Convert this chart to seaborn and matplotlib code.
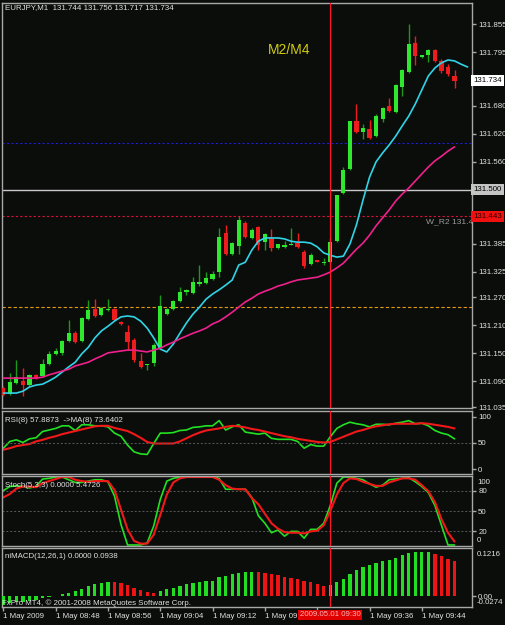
import numpy as np
import pandas as pd
import matplotlib
matplotlib.use("Agg")
import matplotlib.pyplot as plt
import matplotlib.transforms as mtransforms
from matplotlib import font_manager
import seaborn as sns

# ==========================================
# Data (EURJPY M1, 1 May 2009 08:40 - 09:49)
# ==========================================
opens = [131.076, 131.063, 131.086, 131.091, 131.082, 131.104, 131.101, 131.127, 131.149, 131.151,
         131.176, 131.193, 131.176, 131.223, 131.245, 131.232, 131.243, 131.245, 131.217, 131.196,
         131.178, 131.134, 131.125, 131.129, 131.161, 131.234, 131.245, 131.262, 131.281, 131.279,
         131.298, 131.301, 131.309, 131.324, 131.408, 131.363, 131.380, 131.429, 131.397, 131.421,
         131.388, 131.397, 131.375, 131.378, 131.383, 131.386, 131.367, 131.341, 131.350, 131.343,
         131.345, 131.390, 131.493, 131.545, 131.647, 131.624, 131.630, 131.615, 131.652, 131.680,
         131.667, 131.720, 131.752, 131.814, 131.784, 131.789, 131.799, 131.776, 131.763, 131.744]
highs = [131.080, 131.108, 131.136, 131.119, 131.106, 131.106, 131.138, 131.155, 131.161, 131.178,
         131.221, 131.198, 131.228, 131.264, 131.266, 131.249, 131.266, 131.247, 131.219, 131.211,
         131.183, 131.151, 131.127, 131.172, 131.275, 131.247, 131.264, 131.292, 131.288, 131.313,
         131.339, 131.324, 131.326, 131.418, 131.425, 131.388, 131.444, 131.433, 131.418, 131.423,
         131.408, 131.416, 131.384, 131.390, 131.418, 131.408, 131.371, 131.365, 131.350, 131.354,
         131.397, 131.489, 131.549, 131.647, 131.684, 131.641, 131.650, 131.662, 131.677, 131.697,
         131.727, 131.759, 131.855, 131.829, 131.789, 131.801, 131.801, 131.780, 131.769, 131.756]
lows = [131.059, 131.061, 131.084, 131.059, 131.080, 131.095, 131.099, 131.125, 131.146, 131.146,
        131.174, 131.172, 131.174, 131.221, 131.228, 131.230, 131.241, 131.219, 131.211, 131.157,
        131.131, 131.119, 131.114, 131.123, 131.159, 131.232, 131.243, 131.260, 131.275, 131.277,
        131.294, 131.298, 131.307, 131.313, 131.360, 131.360, 131.363, 131.397, 131.395, 131.371,
        131.371, 131.369, 131.373, 131.375, 131.382, 131.375, 131.333, 131.339, 131.345, 131.339,
        131.343, 131.388, 131.491, 131.543, 131.622, 131.609, 131.609, 131.613, 131.645, 131.667,
        131.664, 131.701, 131.750, 131.767, 131.782, 131.774, 131.774, 131.750, 131.744, 131.717]
closes = [131.061, 131.089, 131.099, 131.082, 131.104, 131.097, 131.127, 131.149, 131.155, 131.176,
          131.193, 131.174, 131.226, 131.243, 131.230, 131.247, 131.245, 131.221, 131.213, 131.174,
          131.136, 131.121, 131.127, 131.168, 131.251, 131.245, 131.262, 131.281, 131.286, 131.303,
          131.303, 131.311, 131.320, 131.399, 131.363, 131.386, 131.435, 131.399, 131.414, 131.382,
          131.405, 131.375, 131.384, 131.382, 131.384, 131.378, 131.337, 131.360, 131.345, 131.345,
          131.388, 131.489, 131.543, 131.647, 131.624, 131.632, 131.611, 131.658, 131.675, 131.669,
          131.724, 131.757, 131.812, 131.787, 131.788, 131.799, 131.776, 131.754, 131.748, 131.734]

# cyan MA is drawn shifted two bars ahead of the candles
ma_fast = [131.065, 131.065, 131.065, 131.069, 131.078, 131.082, 131.084, 131.091, 131.099, 131.110,
           131.121, 131.131, 131.149, 131.163, 131.183, 131.198, 131.208, 131.219, 131.228, 131.230,
           131.228, 131.219, 131.204, 131.183, 131.159, 131.153, 131.170, 131.193, 131.215, 131.234,
           131.249, 131.266, 131.277, 131.286, 131.296, 131.307, 131.339, 131.345, 131.371, 131.390,
           131.397, 131.397, 131.397, 131.395, 131.390, 131.388, 131.388, 131.386, 131.378, 131.365,
           131.360, 131.356, 131.358, 131.384, 131.425, 131.478, 131.527, 131.560, 131.579, 131.596,
           131.615, 131.637, 131.658, 131.684, 131.714, 131.744, 131.761, 131.772, 131.778, 131.776,
           131.769, 131.763]
ma_slow = [131.097, 131.097, 131.097, 131.097, 131.097, 131.097, 131.099, 131.104, 131.108, 131.112,
           131.116, 131.123, 131.127, 131.131, 131.138, 131.144, 131.151, 131.153, 131.155, 131.157,
           131.157, 131.155, 131.153, 131.157, 131.161, 131.168, 131.174, 131.181, 131.187, 131.193,
           131.198, 131.204, 131.213, 131.219, 131.228, 131.238, 131.249, 131.260, 131.268, 131.277,
           131.283, 131.288, 131.294, 131.298, 131.303, 131.307, 131.309, 131.311, 131.313, 131.318,
           131.324, 131.333, 131.343, 131.358, 131.373, 131.386, 131.403, 131.423, 131.440, 131.457,
           131.476, 131.491, 131.504, 131.519, 131.534, 131.549, 131.562, 131.572, 131.583, 131.592]

rsi = [40, 53, 56, 51, 58, 60, 72, 75, 78, 83, 83, 74, 85, 85, 83, 83, 81, 69, 63, 46,
       33, 29, 28, 49, 69, 69, 70, 74, 75, 80, 81, 83, 83, 93, 75, 81, 85, 71, 69, 67,
       69, 59, 57, 57, 57, 53, 40, 47, 44, 44, 62, 78, 85, 90, 87, 85, 81, 86, 86, 85,
       88, 90, 93, 87, 88, 83, 74, 69, 66, 58]
rsi_ma = [37, 40, 44, 46, 48, 53, 56, 60, 63, 67, 70, 73, 76, 79, 82, 83, 83, 79, 76, 73,
          67, 60, 52, 49, 49, 49, 49, 53, 59, 65, 70, 74, 76, 78, 81, 83, 82, 80, 77, 75,
          72, 69, 66, 63, 61, 58, 56, 54, 52, 51, 52, 57, 62, 67, 72, 75, 79, 82, 84, 86,
          87, 87, 87, 87, 88, 87, 85, 83, 81, 78]

stoch_main = [80, 86, 87, 86, 84, 86, 97, 98, 100, 100, 96, 92, 92, 94, 96, 96, 93, 72, 30, 0,
              0, 0, 3, 28, 67, 94, 98, 100, 100, 100, 100, 100, 100, 98, 82, 82, 82, 82, 70, 43,
              32, 18, 22, 13, 20, 20, 10, 23, 23, 32, 58, 91, 100, 100, 98, 96, 90, 85, 88, 96,
              97, 98, 99, 93, 86, 77, 58, 29, 0, 0]
stoch_signal = [70, 75, 83, 86, 86, 85, 91, 94, 97, 100, 100, 96, 94, 93, 94, 94, 94, 81, 52, 23,
                6, 2, 2, 15, 44, 74, 92, 98, 100, 100, 100, 100, 100, 96, 88, 83, 82, 82, 69, 60,
                46, 32, 24, 19, 18, 18, 17, 20, 21, 29, 50, 74, 91, 98, 97, 93, 90, 87, 87, 92,
                95, 98, 98, 96, 88, 79, 63, 38, 18, 5]

macd_hist = [-0.022, -0.018, -0.016, -0.0137, -0.0116, -0.0084, -0.0053, -0.0021, 0.0021, 0.0063,
             0.0106, 0.0158, 0.0211, 0.0275, 0.0327, 0.037, 0.039, 0.038, 0.0359, 0.0306,
             0.0243, 0.0169, 0.0127, 0.0095, 0.0148, 0.019, 0.0232, 0.0285, 0.0327, 0.037,
             0.039, 0.0412, 0.0433, 0.0528, 0.056, 0.0612, 0.0644, 0.0655, 0.066, 0.0655,
             0.0644, 0.0612, 0.058, 0.0538, 0.0507, 0.0465, 0.0422, 0.039, 0.0348, 0.0285,
             0.0306, 0.038, 0.0486, 0.0612, 0.0718, 0.0803, 0.0866, 0.0919, 0.0971, 0.0982,
             0.1035, 0.1119, 0.1193, 0.1214, 0.1215, 0.1216, 0.116, 0.110, 0.103, 0.096]

price_ticks = [131.855, 131.795, 131.680, 131.620, 131.560, 131.385, 131.325,
               131.270, 131.210, 131.150, 131.090, 131.035]
time_ticks = [0, 8, 16, 24, 32, 40, 48, 56, 64]
# the 09:20 label is cut off and 09:28 hidden by the cursor time box in the screenshot
time_labels = ["1 May 2009", "1 May 08:48", "1 May 08:56", "1 May 09:04", "1 May 09:12",
               "1 May 09:", "", "1 May 09:36", "1 May 09:44"]

level_w_r2 = 131.443
level_round = 131.500
level_blue = 131.600
level_orange = 131.249
current_price = 131.734
cursor_bar = 50

# ==========================================
# Style
# ==========================================
BG = "#0b0d0b"
FRAME = "#a8a8a8"
TXT = "#e0e0e0"
BULL = "#2ee82e"
BULL_WICK = "#1a9a1a"
BEAR = "#ee1c1c"
CYAN = "#30d4e6"
PINK = "#f0208c"

sns.set_theme(style="dark", rc={"axes.facecolor": BG, "figure.facecolor": BG,
                                "axes.edgecolor": FRAME, "axes.grid": False})
have = {f.name for f in font_manager.fontManager.ttflist}
UI_FONT = "Liberation Sans Narrow" if "Liberation Sans Narrow" in have else "Liberation Sans"
FS = 6.6 if UI_FONT == "Liberation Sans Narrow" else 5.7
plt.rcParams["font.family"] = [UI_FONT, "DejaVu Sans"]

W, H = 506, 625
fig = plt.figure(figsize=(W / 100, H / 100), dpi=100, facecolor=BG)


def panel(top, bottom):
    a = fig.add_axes([2 / W, (H - bottom) / H, 470 / W, (bottom - top) / H])
    a.set_facecolor(BG)
    for s in a.spines.values():
        s.set_color(FRAME)
        s.set_linewidth(1)
    a.set_xlim(-0.2, 71.67)
    a.yaxis.tick_right()
    a.tick_params(axis="y", colors=FRAME, labelcolor=TXT, length=3, width=1,
                  pad=1.5, labelsize=FS, direction="out", right=True, left=False)
    a.tick_params(axis="x", bottom=False, labelbottom=False)
    a.set_xlabel("")
    a.set_ylabel("")
    return a


ax = panel(3, 408)
ax_rsi = panel(411, 474)
ax_st = panel(476, 546)
ax_m = panel(548, 607)

# ==========================================
# Main price panel
# ==========================================
candles = pd.DataFrame({"bar": np.arange(len(opens)), "open": opens, "high": highs,
                        "low": lows, "close": closes})
up = candles["close"] >= candles["open"]
body_lo = candles[["open", "close"]].min(axis=1)
body_h = (candles["close"] - candles["open"]).abs().clip(lower=0.0012)

ax.vlines(candles["bar"], candles["low"], candles["high"],
          colors=np.where(up, BULL_WICK, BEAR), linewidth=1.0, zorder=3)
ax.bar(candles["bar"], body_h, bottom=body_lo, width=0.64,
       color=np.where(up, BULL, BEAR), linewidth=0, zorder=4)

fast = pd.DataFrame({"bar": np.arange(len(ma_fast)), "v": ma_fast})
slow = pd.DataFrame({"bar": np.arange(len(ma_slow)), "v": ma_slow})
sns.lineplot(data=fast, x="bar", y="v", ax=ax, color=CYAN, linewidth=1.2, zorder=5)
sns.lineplot(data=slow, x="bar", y="v", ax=ax, color=PINK, linewidth=1.2, zorder=5)

ax.axhline(level_blue, color="#1c1cd0", linewidth=0.8, dashes=(2, 2), zorder=2)
ax.axhline(level_round, color="#c8c8c8", linewidth=1.0, zorder=2)
ax.axhline(level_w_r2, color="#e0103c", linewidth=0.8, dashes=(2, 2), zorder=2)
ax.axhline(level_orange, color="#e09a10", linewidth=0.8, dashes=(3, 2), zorder=2)

ax.set_ylim(131.033, 131.900)
ax.set_yticks(price_ticks)
ax.set_yticklabels([f"{v:.3f}" for v in price_ticks])
ax.set_xlabel("")
ax.set_ylabel("")


def axis_box(a, y, text, fc, tc):
    a.text(1.003, y, text, transform=a.get_yaxis_transform(), ha="left", va="center",
           fontsize=FS, color=tc, clip_on=False, zorder=20,
           bbox=dict(boxstyle="square,pad=0.25", fc=fc, ec="none"))


axis_box(ax, current_price, f"{current_price:.3f}", "#ffffff", "#000000")
axis_box(ax, level_round, f"{level_round:.3f}", "#c4c4c4", "#000000")
axis_box(ax, level_w_r2, f"{level_w_r2:.3f}", "#f01010", "#300000")

ax.text(64.6, level_w_r2 - 0.004, f"W_R2 {level_w_r2:.3f}", color="#9a9a9a", fontsize=FS + 0.4,
        ha="left", va="top", clip_on=True, zorder=6)
ax.text(40.4, 131.799, "M2/M4", color="#d2cc10", fontsize=10, ha="left", va="center",
        family=["Liberation Sans", "DejaVu Sans"], zorder=6)
ax.text(0.0064, 1 - 1.5 / 405, "EURJPY,M1  131.744 131.756 131.717 131.734",
        transform=ax.transAxes, color=TXT, fontsize=FS, ha="left", va="top", zorder=6)

# ==========================================
# RSI panel
# ==========================================
rsi_df = pd.DataFrame({"bar": np.arange(len(rsi)), "rsi": rsi, "ma": rsi_ma})
sns.lineplot(data=rsi_df, x="bar", y="rsi", ax=ax_rsi, color="#22e022", linewidth=1.2)
sns.lineplot(data=rsi_df, x="bar", y="ma", ax=ax_rsi, color="#f01818", linewidth=1.5)
ax_rsi.axhline(50, color="#5a5a5a", linewidth=0.7, dashes=(2, 2))
ax_rsi.set_ylim(-9.6, 111.5)
ax_rsi.set_yticks([100, 50, 0])
ax_rsi.set_yticklabels(["100", "50", "0"])
ax_rsi.set_xlabel("")
ax_rsi.set_ylabel("")
ax_rsi.text(0.0064, 0.857, "RSI(8) 57.8873  ->MA(8) 73.6402", transform=ax_rsi.transAxes,
            color=TXT, fontsize=FS, ha="left", va="center")

# ==========================================
# Stochastic panel
# ==========================================
st_df = pd.DataFrame({"bar": np.arange(len(stoch_main)), "k": stoch_main, "d": stoch_signal})
sns.lineplot(data=st_df, x="bar", y="k", ax=ax_st, color="#22e022", linewidth=1.2)
sns.lineplot(data=st_df, x="bar", y="d", ax=ax_st, color="#f01818", linewidth=1.5)
for lv in (80, 50, 20):
    ax_st.axhline(lv, color="#5a5a5a", linewidth=0.7, dashes=(2, 2), zorder=1)
ax_st.set_ylim(-1.5, 101.5)
ax_st.set_yticks([80, 50, 20])
ax_st.set_yticklabels(["80", "50", "20"])
ax_st.set_xlabel("")
ax_st.set_ylabel("")
ax_st.text(1.0106, 1 - 2.5 / 70, "100", transform=ax_st.transAxes, color=TXT, fontsize=FS,
           ha="left", va="top", clip_on=False)
ax_st.text(1.0106, 1.5 / 70, "0", transform=ax_st.transAxes, color=TXT, fontsize=FS,
           ha="left", va="bottom", clip_on=False)
ax_st.text(0.0064, 0.871, "Stoch(5,3,3) 0.0000 5.4726", transform=ax_st.transAxes,
           color=TXT, fontsize=FS, ha="left", va="center")

# ==========================================
# MACD histogram panel
# ==========================================
m_df = pd.DataFrame({"bar": np.arange(len(macd_hist)), "v": macd_hist})
rising = m_df["v"].diff().fillna(1) >= 0
ax_m.bar(m_df["bar"], m_df["v"], width=0.5, color=np.where(rising, "#22dd22", "#ee1414"),
         linewidth=0, zorder=3)
ax_m.set_ylim(-0.0285, 0.1316)
ax_m.set_yticks([0])
ax_m.set_yticklabels(["0.00"])
ax_m.text(1.0106, 1 - 3 / 59, "0.1216", transform=ax_m.transAxes, color=TXT, fontsize=FS,
          ha="left", va="top", clip_on=False)
ax_m.text(1.0106, 0.5 / 59, "-0.0274", transform=ax_m.transAxes, color=TXT, fontsize=FS,
          ha="left", va="bottom", clip_on=False)
ax_m.text(0.0064, 0.864, "niMACD(12,26,1) 0.0000 0.0938", transform=ax_m.transAxes,
          color=TXT, fontsize=FS, ha="left", va="center")
ax_m.text(0.0, 0.068, "FxPro MT4, \u00a9 2001-2008 MetaQuotes Software Corp.",
          transform=ax_m.transAxes, color=TXT, fontsize=FS, ha="left", va="center", zorder=6)

ax_m.tick_params(axis="x", bottom=True, labelbottom=True, colors=FRAME, labelcolor=TXT,
                 length=3, width=1, pad=1.5, labelsize=FS, direction="out")
ax_m.set_xticks(time_ticks)
ax_m.set_xticklabels(time_labels, ha="left")
ax_m.set_xlabel("")
ax_m.set_ylabel("")

tr = mtransforms.blended_transform_factory(ax_m.transData, ax_m.transAxes)
ax_m.text(cursor_bar, -0.135, "2009.05.01 09:30", transform=tr, ha="center", va="center",
          fontsize=FS, color="#ffb4b4", clip_on=False, zorder=20,
          bbox=dict(boxstyle="square,pad=0.18", fc="#e00000", ec="none"))

# cursor line through every window
for a in (ax, ax_rsi, ax_st, ax_m):
    a.axvline(cursor_bar, color="#ff1428", linewidth=0.9, zorder=8)
    a.set_xlim(-0.2, 71.67)

fig.savefig("out.png", dpi=100, facecolor=BG)
